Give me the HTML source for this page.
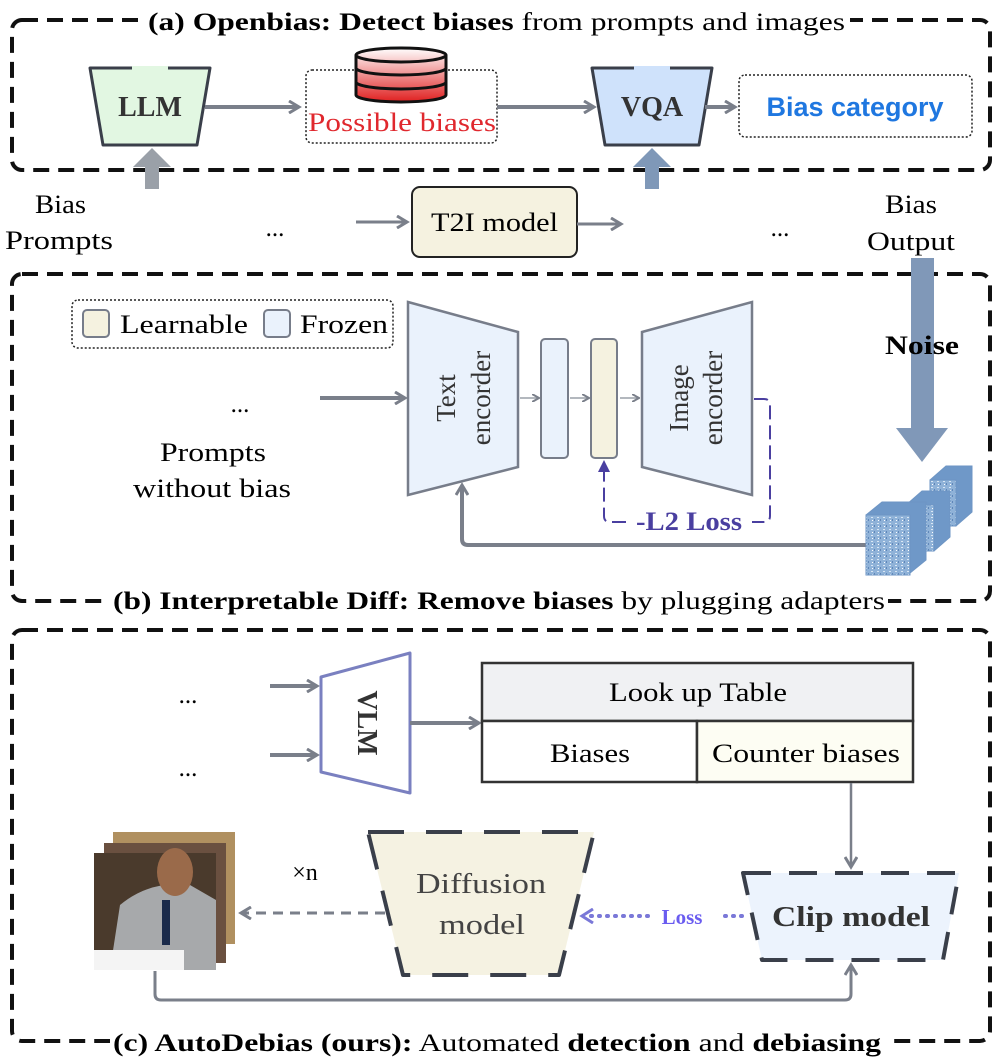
<!DOCTYPE html>
<html><head><meta charset="utf-8"><style>
html,body{margin:0;padding:0;background:#fff}
svg{display:block}
text{font-family:"Liberation Serif","DejaVu Serif",serif}
</style></head><body>
<svg width="996" height="1061" viewBox="0 0 996 1061" xmlns="http://www.w3.org/2000/svg">
<defs>
<marker id="ag" markerWidth="8" markerHeight="8" refX="6" refY="4" orient="auto" markerUnits="userSpaceOnUse"><path d="M0,0 L7,4 L0,8" fill="none" stroke="#7a7f8a" stroke-width="2"/></marker>
<marker id="agf" markerWidth="14" markerHeight="14" refX="10" refY="7" orient="auto" markerUnits="userSpaceOnUse"><path d="M1,1 L11,7 L1,13" fill="none" stroke="#7a7f8a" stroke-width="3"/></marker>
<marker id="ap" markerWidth="14" markerHeight="14" refX="10" refY="7" orient="auto" markerUnits="userSpaceOnUse"><path d="M0,1 L12,7 L0,13 Z" fill="#4a3fa0"/></marker>
<marker id="al" markerWidth="16" markerHeight="16" refX="10" refY="8" orient="auto" markerUnits="userSpaceOnUse"><path d="M1,1 L12,8 L1,15" fill="none" stroke="#7a78d8" stroke-width="3"/></marker>
<linearGradient id="red" x1="0" y1="0" x2="0" y2="1"><stop offset="0" stop-color="#fff"/><stop offset="1" stop-color="#e02020"/></linearGradient>
<pattern id="noise" width="6" height="6" patternUnits="userSpaceOnUse"><rect width="6" height="6" fill="#8fb2d8"/><rect x="1" y="1" width="2" height="1" fill="#d8e6f4"/><rect x="4" y="3" width="1" height="2" fill="#5f86b8"/><rect x="2" y="4" width="1" height="1" fill="#fff"/></pattern>
</defs>

<!-- Box a -->
<rect x="12" y="20" width="978" height="150" rx="10" fill="none" stroke="#111" stroke-width="4" stroke-dasharray="16,9"/>
<rect x="142" y="6" width="708" height="30" fill="#fff"/>
<text x="148" y="30" font-size="25" textLength="697" lengthAdjust="spacingAndGlyphs"><tspan font-weight="bold">(a) Openbias: Detect biases</tspan> from prompts and images</text>

<path d="M90,68 L210,68 L197,145 L103,145 Z" fill="#e2f7e2" stroke="#3a3f4a" stroke-width="3" stroke-linejoin="round"/>
<line x1="132" y1="68" x2="168" y2="68" stroke="#e2f7e2" stroke-width="4"/>
<text x="150" y="116" text-anchor="middle" font-size="28" font-weight="bold" fill="#333">LLM</text>
<line x1="205" y1="107" x2="298" y2="107" stroke="#7a7f8a" stroke-width="4" marker-end="url(#agf)"/>

<rect x="306" y="70" width="191" height="73" rx="6" fill="none" stroke="#222" stroke-width="1.5" stroke-dasharray="2,2"/>
<path d="M356,55 A45,7 0 0 1 446,55 L446,95 A45,7 0 0 1 356,95 Z" fill="url(#red)" stroke="#111" stroke-width="3"/>
<path d="M356,55 A45,7 0 0 0 446,55" fill="none" stroke="#111" stroke-width="3"/>
<path d="M356,68 A45,7 0 0 0 446,68" fill="none" stroke="#111" stroke-width="3"/>
<path d="M356,82 A45,7 0 0 0 446,82" fill="none" stroke="#111" stroke-width="3"/>
<text x="308" y="131" font-size="26" fill="#e0282e" textLength="188" lengthAdjust="spacingAndGlyphs">Possible biases</text>
<line x1="497" y1="107" x2="593" y2="107" stroke="#7a7f8a" stroke-width="4" marker-end="url(#agf)"/>

<path d="M592,68 L712,68 L699,145 L605,145 Z" fill="#cfe2fb" stroke="#3a3f4a" stroke-width="3" stroke-linejoin="round"/>
<line x1="634" y1="68" x2="670" y2="68" stroke="#cfe2fb" stroke-width="4"/>
<text x="652" y="116" text-anchor="middle" font-size="28" font-weight="bold" fill="#333">VQA</text>
<line x1="705" y1="107" x2="734" y2="107" stroke="#7a7f8a" stroke-width="4" marker-end="url(#agf)"/>
<rect x="739" y="75" width="233" height="62" rx="6" fill="none" stroke="#222" stroke-width="1.5" stroke-dasharray="2,2"/>
<text x="855" y="116" text-anchor="middle" font-size="27" font-weight="bold" fill="#1f77e0" style="font-family:'Liberation Sans',sans-serif">Bias category</text>

<!-- up arrows -->
<rect x="145" y="165" width="14" height="24" fill="#9aa0a8"/>
<path d="M133,167 L152,148 L171,167 Z" fill="#9aa0a8"/>
<rect x="645" y="165" width="14" height="24" fill="#7f98b8"/>
<path d="M633,167 L652,148 L671,167 Z" fill="#7f98b8"/>

<!-- middle row -->
<text x="35" y="213" font-size="26" textLength="51" lengthAdjust="spacingAndGlyphs">Bias</text>
<text x="5" y="249" font-size="26" textLength="108" lengthAdjust="spacingAndGlyphs">Prompts</text>
<text x="275" y="236" text-anchor="middle" font-size="25">...</text>
<line x1="356" y1="222" x2="406" y2="222" stroke="#7a7f8a" stroke-width="3" marker-end="url(#agf)"/>
<rect x="412" y="187" width="165" height="70" rx="8" fill="#f5f2e0" stroke="#222" stroke-width="2"/>
<text x="431" y="231" font-size="26" textLength="127" lengthAdjust="spacingAndGlyphs">T2I model</text>
<line x1="577" y1="224" x2="620" y2="224" stroke="#7a7f8a" stroke-width="3" marker-end="url(#agf)"/>
<text x="780" y="236" text-anchor="middle" font-size="25">...</text>
<text x="885" y="213" font-size="26" textLength="52" lengthAdjust="spacingAndGlyphs">Bias</text>
<text x="867" y="250" font-size="26" textLength="88" lengthAdjust="spacingAndGlyphs">Output</text>

<!-- Box b -->
<rect x="12" y="274" width="978" height="327" rx="10" fill="none" stroke="#111" stroke-width="4" stroke-dasharray="16,9"/>
<rect x="110" y="585" width="778" height="30" fill="#fff"/>
<text x="113" y="609" font-size="25" textLength="772" lengthAdjust="spacingAndGlyphs"><tspan font-weight="bold">(b) Interpretable Diff: Remove biases</tspan> by plugging adapters</text>

<!-- Noise arrow -->
<rect x="911" y="258" width="23" height="170" fill="#8098b8"/>
<path d="M896,428 L948,428 L922,462 Z" fill="#8098b8"/>
<text x="885" y="354" font-size="26" font-weight="bold" textLength="74" lengthAdjust="spacingAndGlyphs">Noise</text>

<!-- legend -->
<rect x="72" y="300" width="321" height="48" rx="6" fill="none" stroke="#222" stroke-width="1.5" stroke-dasharray="2,2"/>
<rect x="83" y="310" width="26" height="27" rx="4" fill="#f5f2e0" stroke="#777d8a" stroke-width="2"/>
<text x="120" y="333" font-size="26" textLength="128" lengthAdjust="spacingAndGlyphs">Learnable</text>
<rect x="264" y="310" width="26" height="27" rx="4" fill="#eaf2fc" stroke="#777d8a" stroke-width="2"/>
<text x="300" y="333" font-size="26" textLength="88" lengthAdjust="spacingAndGlyphs">Frozen</text>

<text x="240" y="412" text-anchor="middle" font-size="25">...</text>
<text x="160" y="461" font-size="26" textLength="106" lengthAdjust="spacingAndGlyphs">Prompts</text>
<text x="133" y="497" font-size="26" textLength="158" lengthAdjust="spacingAndGlyphs">without bias</text>
<line x1="320" y1="398" x2="404" y2="398" stroke="#7a7f8a" stroke-width="4" marker-end="url(#agf)"/>

<path d="M408,302 L518,332 L518,467 L408,495 Z" fill="#eaf2fc" stroke="#777d8a" stroke-width="2.5"/>
<text transform="translate(455,398) rotate(-90)" text-anchor="middle" font-size="27" fill="#333">Text</text>
<text transform="translate(490,398) rotate(-90)" text-anchor="middle" font-size="27" fill="#333">encorder</text>
<line x1="520" y1="398" x2="538" y2="398" stroke="#9aa0a8" stroke-width="1.5" marker-end="url(#ag)"/>
<rect x="541" y="339" width="27" height="119" rx="4" fill="#eaf2fc" stroke="#777d8a" stroke-width="2"/>
<line x1="570" y1="398" x2="588" y2="398" stroke="#9aa0a8" stroke-width="1.5" marker-end="url(#ag)"/>
<rect x="591" y="339" width="26" height="119" rx="4" fill="#f5f2e0" stroke="#777d8a" stroke-width="2"/>
<line x1="620" y1="398" x2="638" y2="398" stroke="#9aa0a8" stroke-width="1.5" marker-end="url(#ag)"/>
<path d="M642,332 L752,302 L752,495 L642,467 Z" fill="#eaf2fc" stroke="#777d8a" stroke-width="2.5"/>
<text transform="translate(688,398) rotate(-90)" text-anchor="middle" font-size="27" fill="#333">Image</text>
<text transform="translate(722,398) rotate(-90)" text-anchor="middle" font-size="27" fill="#333">encorder</text>

<path d="M754,399 L764,399 Q770,399 770,405 L770,516 Q770,522 764,522 L752,522" fill="none" stroke="#4a3fa0" stroke-width="2" stroke-dasharray="14,6"/>
<path d="M626,522 L610,522 Q604,522 604,516 L604,462" fill="none" stroke="#4a3fa0" stroke-width="2" stroke-dasharray="14,6" marker-end="url(#ap)"/>
<text x="636" y="530" font-size="26" font-weight="bold" fill="#4a3fa0" textLength="106" lengthAdjust="spacingAndGlyphs">-L2 Loss</text>

<path d="M866,545 L468,545 Q462,545 462,539 L462,486" fill="none" stroke="#7a7f8a" stroke-width="4" marker-end="url(#agf)"/>

<!-- cubes -->
<g stroke="#6e95c4" stroke-width="1">
<path d="M930,480 L946,466 L972,466 L972,512 L956,526 Z" fill="#6f98c8"/>
<rect x="930" y="480" width="26" height="46" fill="url(#noise)"/>
<path d="M906,505 L922,491 L950,491 L950,537 L934,551 Z" fill="#6f98c8"/>
<rect x="906" y="505" width="28" height="46" fill="url(#noise)"/>
<path d="M866,515 L882,502 L926,502 L926,560 L910,573 Z" fill="#6f98c8"/>
<rect x="866" y="515" width="44" height="60" fill="url(#noise)"/>
</g>

<!-- Box c -->
<rect x="12" y="630" width="978" height="411" rx="10" fill="none" stroke="#111" stroke-width="4" stroke-dasharray="16,9"/>
<rect x="110" y="1026" width="778" height="35" fill="#fff"/>
<text x="113" y="1051" font-size="25" textLength="768" lengthAdjust="spacingAndGlyphs"><tspan font-weight="bold">(c) AutoDebias (ours):</tspan> Automated <tspan font-weight="bold">detection</tspan> and <tspan font-weight="bold">debiasing</tspan></text>

<text x="188" y="703" text-anchor="middle" font-size="25">...</text>
<text x="188" y="776" text-anchor="middle" font-size="25">...</text>
<line x1="270" y1="686" x2="316" y2="686" stroke="#7a7f8a" stroke-width="4" marker-end="url(#agf)"/>
<line x1="270" y1="755" x2="316" y2="755" stroke="#7a7f8a" stroke-width="4" marker-end="url(#agf)"/>
<path d="M321,677 L410,653 L410,793 L321,772 Z" fill="#fff" stroke="#7a80c0" stroke-width="3" stroke-linejoin="round"/>
<text transform="translate(358,723) rotate(90)" text-anchor="middle" font-size="28" font-weight="bold" fill="#333">VLM</text>
<line x1="410" y1="723" x2="478" y2="723" stroke="#7a7f8a" stroke-width="4" marker-end="url(#agf)"/>

<rect x="482" y="663" width="431" height="58" fill="#f0f1f3" stroke="#333" stroke-width="2.5"/>
<rect x="482" y="721" width="215" height="61" fill="#fff" stroke="#333" stroke-width="2.5"/>
<rect x="697" y="721" width="216" height="61" fill="#fdfdf3" stroke="#333" stroke-width="2.5"/>
<text x="609" y="701" font-size="26" textLength="178" lengthAdjust="spacingAndGlyphs">Look up Table</text>
<text x="550" y="762" font-size="26" textLength="80" lengthAdjust="spacingAndGlyphs">Biases</text>
<text x="712" y="762" font-size="26" textLength="188" lengthAdjust="spacingAndGlyphs">Counter biases</text>
<line x1="851" y1="783" x2="851" y2="866" stroke="#7a7f8a" stroke-width="2.5" marker-end="url(#agf)"/>

<path d="M743,873 L959,873 L943,960 L762,960 Z" fill="#ecf3fd" stroke="#3a3f4a" stroke-width="4" stroke-dasharray="28,18" stroke-linejoin="round"/>
<text x="772" y="926" font-size="29" font-weight="bold" fill="#333" textLength="158" lengthAdjust="spacingAndGlyphs">Clip model</text>

<path d="M368,832 L594,832 L559,975 L403,975 Z" fill="#f5f2e2" stroke="#3a3f4a" stroke-width="4" stroke-dasharray="36,22" stroke-linejoin="round"/>
<text x="416" y="893" font-size="28" fill="#444" textLength="130" lengthAdjust="spacingAndGlyphs">Diffusion</text>
<text x="439" y="934" font-size="28" fill="#444" textLength="86" lengthAdjust="spacingAndGlyphs">model</text>

<line x1="742" y1="916" x2="718" y2="916" stroke="#7a78d8" stroke-width="4" stroke-dasharray="1,7" stroke-linecap="round"/>
<text x="682" y="924" text-anchor="middle" font-size="21" font-weight="bold" fill="#6a5cf0">Loss</text>
<line x1="648" y1="916" x2="584" y2="916" stroke="#7a78d8" stroke-width="4" stroke-dasharray="1,7" stroke-linecap="round" marker-end="url(#al)"/>

<line x1="385" y1="913" x2="242" y2="913" stroke="#7a7f8a" stroke-width="3" stroke-dasharray="10,7" marker-end="url(#agf)"/>
<text x="305" y="880" text-anchor="middle" font-size="24">×n</text>

<!-- images -->
<rect x="113" y="832" width="122" height="112" fill="#b09060"/>
<rect x="104" y="843" width="122" height="120" fill="#6a5040"/>
<rect x="94" y="853" width="122" height="117" fill="#4a3a2c"/>
<path d="M110,970 L120,905 Q150,880 190,885 L216,900 L216,970 Z" fill="#a7a9ab"/>
<ellipse cx="175" cy="872" rx="18" ry="24" fill="#9a6a4a"/>
<rect x="94" y="950" width="90" height="20" fill="#f4f4f4"/>
<rect x="162" y="900" width="8" height="45" fill="#1a2a4a"/>

<path d="M155,971 L155,994 Q155,1000 161,1000 L845,1000 Q851,1000 851,994 L851,966" fill="none" stroke="#7a7f8a" stroke-width="3" marker-end="url(#agf)"/>
</svg>
</body></html>
